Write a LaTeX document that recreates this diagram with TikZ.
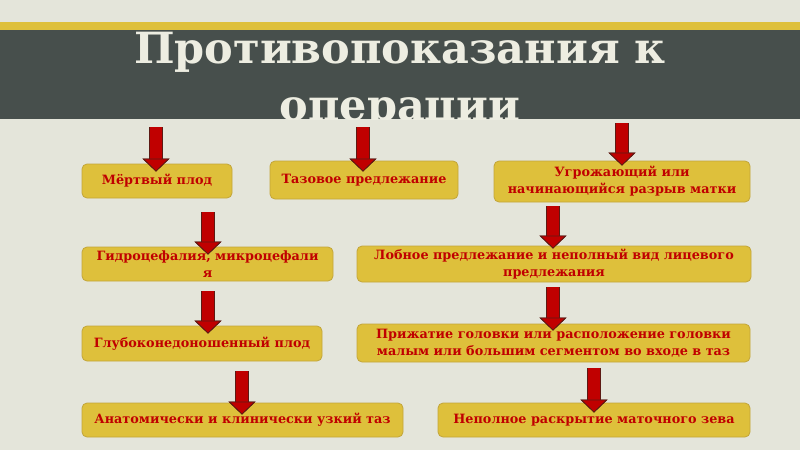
\documentclass[tikz,border=0pt]{standalone}
\usepackage{fontspec}
\setmainfont{DejaVu Serif}
\usetikzlibrary{arrows.meta,calc}
\definecolor{tlo}{HTML}{E4E5DA}
\definecolor{pas}{HTML}{474F4C}
\definecolor{zolto}{HTML}{DEC03B}
\definecolor{ramka}{HTML}{C2A53A}
\definecolor{krasn}{HTML}{C00000}
\definecolor{kontur}{HTML}{5C1A14}
\definecolor{mel}{HTML}{EDEDE1}

\begin{document}
\begin{tikzpicture}[
    x=1pt, y=-1pt,
    title/.style={text=mel, font=\bfseries\fontsize{43}{50}\selectfont, anchor=base, inner sep=0pt},
    box/.style={draw=ramka, fill=zolto, line width=0.8pt, rounded corners=5pt, align=center, text=krasn, font=\bfseries\fontsize{12.8}{17}\selectfont, inner sep=2pt},
    arr/.style={draw=krasn, line width=12pt,
        -{Triangle[width=27pt,length=13pt,line width=0.8pt,fill=krasn,color=kontur]},
        preaction={draw=kontur, line width=13.6pt,
        -{Triangle[width=27pt,length=13pt,line width=0.8pt,fill=krasn,color=kontur]}}}
]

% Фон и полоса заголовка
\useasboundingbox (0,0) rectangle (800,450);
\fill[tlo] (0,0) rectangle (800,450);
\fill[zolto] (0,22) rectangle (800,30);
\fill[pas] (0,30) rectangle (800,119);

% Заголовок (нижняя строка обрезана полосой)
\begin{scope}
\clip (0,30) rectangle (800,119);
\node[title] (tyt1) at (400,63) {Противопоказания к};
\node[title] (tyt2) at (400,120) {операции};
\end{scope}

% Блоки: левая колонка
\node[box, minimum width=150pt, minimum height=34pt] (mort) at (157,181) {Мёртвый плод};
\node[box, minimum width=251pt, minimum height=34pt] (gidro) at (207.5,264) {Гидроцефалия, микроцефали\\я};
\node[box, minimum width=240pt, minimum height=35pt] (glub) at (202,343.5) {Глубоконедоношенный плод};
\node[box, minimum width=321pt, minimum height=34pt] (anat) at (242.5,420) {Анатомически и клинически узкий таз};

% Блоки: средняя и правая колонки
\node[box, minimum width=188pt, minimum height=38pt] (taz) at (364,180) {Тазовое предлежание};
\node[box, minimum width=256pt, minimum height=41pt] (ugr) at (622,181.5) {Угрожающий или\\начинающийся разрыв матки};
\node[box, minimum width=394pt, minimum height=36pt] (lob) at (554,264) {Лобное предлежание и неполный вид лицевого\\предлежания};
\node[box, minimum width=393pt, minimum height=38pt] (prizh) at (553.5,343) {Прижатие головки или расположение головки\\малым или большим сегментом во входе в таз};
\node[box, minimum width=312pt, minimum height=34pt] (nepol) at (594,420) {Неполное раскрытие маточного зева};

% Начала стрелок
\coordinate (s1) at (156,127);
\coordinate (s2) at (363,127);
\coordinate (s3) at (622,123);
\coordinate (s4) at (208,212);
\coordinate (s5) at (553,206);
\coordinate (s6) at (208,291);
\coordinate (s7) at (553,287);
\coordinate (s8) at (242,371);
\coordinate (s9) at (594,368);

% Стрелки вниз к блокам
\draw[arr] (s1) -- ($(s1 |- mort.north)+(0,8)$);
\draw[arr] (s2) -- ($(s2 |- taz.north)+(0,11)$);
\draw[arr] (s3) -- ($(s3 |- ugr.north)+(0,5)$);
\draw[arr] (s4) -- ($(s4 |- gidro.north)+(0,8)$);
\draw[arr] (s5) -- ($(s5 |- lob.north)+(0,3)$);
\draw[arr] (s6) -- ($(s6 |- glub.north)+(0,8)$);
\draw[arr] (s7) -- ($(s7 |- prizh.north)+(0,7)$);
\draw[arr] (s8) -- ($(s8 |- anat.north)+(0,12)$);
\draw[arr] (s9) -- ($(s9 |- nepol.north)+(0,10)$);

\end{tikzpicture}
\end{document}
